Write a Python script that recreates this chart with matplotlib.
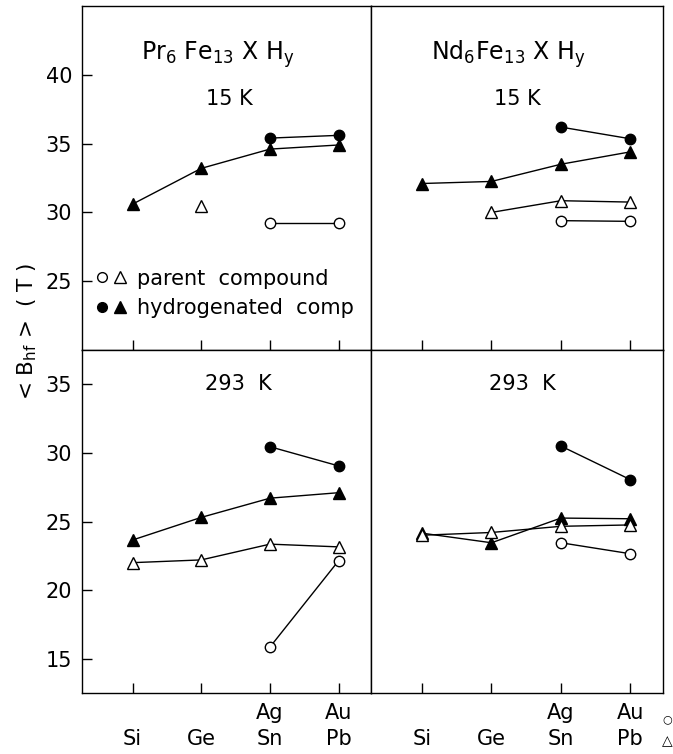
import numpy as np
import matplotlib.pyplot as plt
from matplotlib.lines import Line2D
from matplotlib.legend_handler import HandlerTuple

plt.rcParams['font.family'] = ['DejaVu Sans']
plt.rcParams['mathtext.default'] = 'regular'

nan = np.nan
pos = [1, 2, 3, 4]
xlabels = ['\nSi', '\nGe', 'Ag\nSn', 'Au\nPb']

# Pr6Fe13XHy, 15 K  (circles: Ag/Au, triangles: Si/Ge/Sn/Pb)
pr15_tri_h = [30.6, 33.2, 34.6, 34.9]
pr15_circ_h = [nan, nan, 35.4, 35.6]
pr15_tri_p = [nan, 30.5, nan, nan]
pr15_circ_p = [nan, nan, 29.2, 29.2]

# Nd6Fe13XHy, 15 K
nd15_tri_h = [32.1, 32.25, 33.5, 34.4]
nd15_circ_h = [nan, nan, 36.2, 35.35]
nd15_tri_p = [nan, 30.0, 30.85, 30.75]
nd15_circ_p = [nan, nan, 29.4, 29.35]

# Pr6Fe13XHy, 293 K
pr293_tri_h = [23.65, 25.3, 26.7, 27.1]
pr293_circ_h = [nan, nan, 30.45, 29.05]
pr293_tri_p = [22.0, 22.2, 23.35, 23.15]
pr293_circ_p = [nan, nan, 15.85, 22.15]

# Nd6Fe13XHy, 293 K
nd293_tri_h = [24.15, 23.45, 25.25, 25.2]
nd293_circ_h = [nan, nan, 30.5, 28.05]
nd293_tri_p = [24.0, 24.2, 24.65, 24.75]
nd293_circ_p = [nan, nan, 23.45, 22.65]

W, H = 673, 754
fig = plt.figure(figsize=(W / 100, H / 100), dpi=100)

x0, xm, x1 = 82, 371, 663
y0, ym, y1 = 6, 350, 693

def px_axes(l, t, r, b):
    return fig.add_axes([l / W, 1 - b / H, (r - l) / W, (b - t) / H])

panels = [
    (px_axes(x0, y0, xm, ym), (pr15_tri_h, pr15_circ_h, pr15_tri_p, pr15_circ_p), (20, 45), 'Pr$_6$ Fe$_{13}$ X H$_y$', '15 K'),
    (px_axes(xm, y0, x1, ym), (nd15_tri_h, nd15_circ_h, nd15_tri_p, nd15_circ_p), (20, 45), 'Nd$_6$Fe$_{13}$ X H$_y$', '15 K'),
    (px_axes(x0, ym, xm, y1), (pr293_tri_h, pr293_circ_h, pr293_tri_p, pr293_circ_p), (12.5, 37.5), None, '293  K'),
    (px_axes(xm, ym, x1, y1), (nd293_tri_h, nd293_circ_h, nd293_tri_p, nd293_circ_p), (12.5, 37.5), None, '293  K'),
]

for i, (ax, (tri_h, circ_h, tri_p, circ_p), ylim, title, temp) in enumerate(panels):
    ax.plot(pos, tri_h, color='black', lw=1.0, marker='^', ms=9, mfc='black', mec='black')
    ax.plot(pos, circ_h, color='black', lw=1.0, marker='o', ms=7.5, mfc='black', mec='black')
    ax.plot(pos, tri_p, color='black', lw=1.0, marker='^', ms=9, mfc='white', mec='black', mew=1.0)
    ax.plot(pos, circ_p, color='black', lw=1.0, marker='o', ms=7.5, mfc='white', mec='black', mew=1.0)

    ax.set_xlim(0.265, 4.47)
    ax.set_ylim(*ylim)
    for s in ax.spines.values():
        s.set_linewidth(1.0)

    ax.set_xticks(pos)
    ax.tick_params(axis='x', direction='in', length=7, width=1.0, top=False)
    if i >= 2:
        ax.set_xticklabels(xlabels, fontsize=15)
        ax.tick_params(axis='x', pad=7)
        for lab in ax.get_xticklabels():
            lab.set_linespacing(1.4)
    else:
        ax.set_xticklabels([])

    if i % 2 == 0:
        ax.set_yticks([25, 30, 35, 40] if i == 0 else [15, 20, 25, 30, 35])
        ax.tick_params(axis='y', direction='in', length=7, width=1.0, labelsize=15, pad=7)
    else:
        ax.set_yticks([])

    if title:
        ax.text(0.47, 0.86, title, transform=ax.transAxes,
                ha='center', va='center', fontsize=17)
        ax.text(0.51 if i % 2 == 0 else 0.5, 0.73, temp,
                transform=ax.transAxes, ha='center', va='center', fontsize=15)
    else:
        ax.text(0.54 if i % 2 == 0 else 0.52, 0.9, temp,
                transform=ax.transAxes, ha='center', va='center', fontsize=15)

# legend in the top-left panel
ax = panels[0][0]
h_par = (Line2D([], [], ls='none', marker='o', ms=7, mfc='white', mec='black'),
         Line2D([], [], ls='none', marker='^', ms=9, mfc='white', mec='black'))
h_hyd = (Line2D([], [], ls='none', marker='o', ms=7, mfc='black', mec='black'),
         Line2D([], [], ls='none', marker='^', ms=9, mfc='black', mec='black'))
ax.legend([h_par, h_hyd], ['parent  compound', 'hydrogenated  comp'],
          handler_map={tuple: HandlerTuple(ndivide=None, pad=0.3)},
          loc='upper left', bbox_to_anchor=(0.025, 0.255), frameon=False,
          fontsize=15, handlelength=1.5, handletextpad=0.5, labelspacing=0.45,
          borderaxespad=0.0, borderpad=0.3)

fig.text(27 / W, 1 - 331 / H, '< B$_{hf}$ >  ( T )', rotation=90,
         ha='center', va='center', fontsize=15.5)
fig.text(667 / W, 1 - 719 / H, '\u25cb', ha='center', va='center', fontsize=8)
fig.text(667 / W, 1 - 741 / H, '\u25b3', ha='center', va='center', fontsize=10)

fig.savefig('out.png', dpi=100)
